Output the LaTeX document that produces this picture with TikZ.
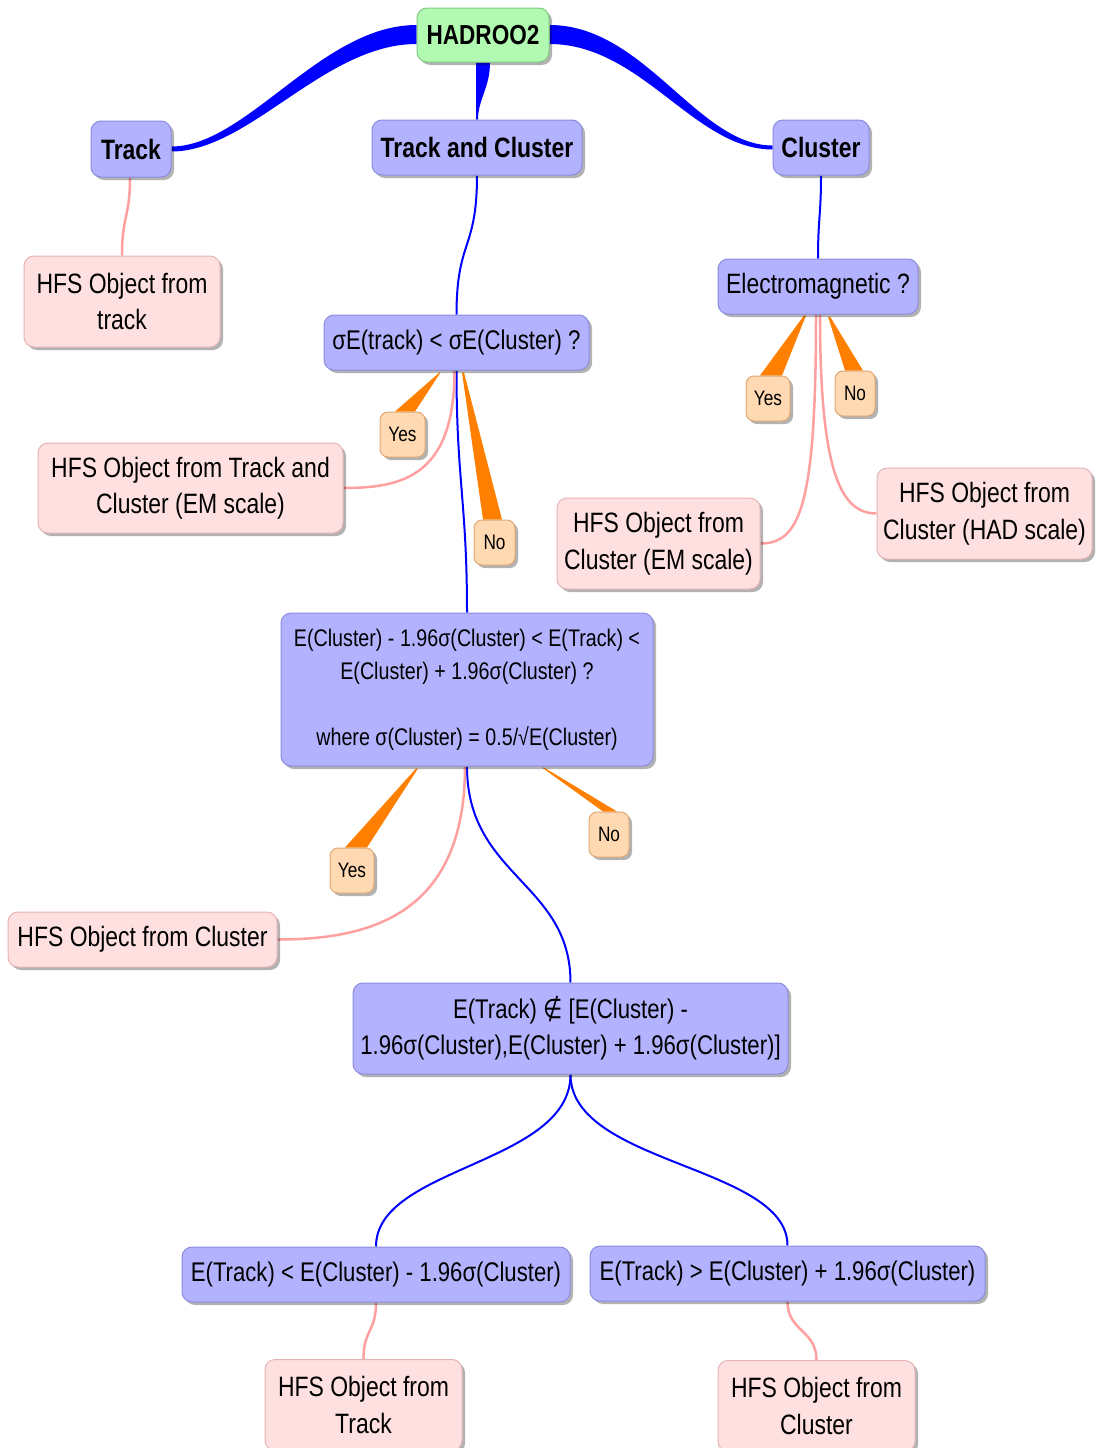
\documentclass[tikz,border=0pt]{standalone}
\usepackage{fontspec}
\setmainfont{Liberation Sans}[FakeStretch=0.82]
\newfontfamily\djv{DejaVu Sans}[FakeStretch=0.82]
\usetikzlibrary{shadows,calc}
\pgfdeclarelayer{background}
\pgfsetlayers{background,main}
\definecolor{bnode}{RGB}{178,178,255}
\definecolor{bbord}{RGB}{140,140,225}
\definecolor{gnode}{RGB}{178,250,178}
\definecolor{gbord}{RGB}{130,200,130}
\definecolor{pnode}{RGB}{255,224,224}
\definecolor{pbord}{RGB}{228,180,180}
\definecolor{onode}{RGB}{255,217,178}
\definecolor{obord}{RGB}{222,168,118}
\definecolor{wedge}{RGB}{255,128,0}
\definecolor{bline}{RGB}{0,0,255}
\definecolor{pline}{RGB}{255,160,160}
\tikzset{
  base/.style={rounded corners=10pt, inner sep=0pt, align=center, line width=1pt,
    drop shadow={shadow xshift=3pt, shadow yshift=-3pt, opacity=0.3, fill=black}},
  bluebox/.style={base, fill=bnode, draw=bbord, font=\fontsize{27}{36}\selectfont},
  topbox/.style={base, fill=bnode, draw=bbord, font=\fontsize{28}{34}\selectfont\bfseries},
  rootbox/.style={base, fill=gnode, draw=gbord, font=\fontsize{27.5}{34}\selectfont\bfseries},
  pinkbox/.style={base, fill=pnode, draw=pbord, font=\fontsize{28}{36.5}\selectfont},
  ansbox/.style={base, rounded corners=8pt, fill=onode, draw=obord, font=\fontsize{21}{25}\selectfont},
  bconn/.style={draw=bline, line width=2pt},
  pconn/.style={draw=pline, line width=2.5pt},
}
\begin{document}
\begin{tikzpicture}[x=1pt, y=-1pt]
\useasboundingbox (0,0) rectangle (1095,1448);

% nodes
\node[rootbox, minimum width=132, minimum height=54] (root) at (483,35) {HADROO2};
\node[topbox, minimum width=80, minimum height=56] (track) at (131,149) {Track};
\node[topbox, minimum width=210, minimum height=55] (tc) at (477,147.5) {Track and Cluster};
\node[topbox, minimum width=96, minimum height=55] (cluster) at (821,147.5) {Cluster};

\node[pinkbox, minimum width=196, minimum height=91] (hfsT) at (122,301.5) {HFS Object from\\track};
\node[bluebox, font=\fontsize{28}{36}\selectfont, minimum width=200, minimum height=55] (em) at (818,286.5) {Electromagnetic ?};
\node[bluebox, minimum width=265, minimum height=55] (sig) at (456.5,342.5) {σE(track) < σE(Cluster) ?};

\node[pinkbox, minimum width=305, minimum height=90] (hfsTC) at (190.5,488) {HFS Object from Track and\\Cluster (EM scale)};
\node[pinkbox, minimum width=203, minimum height=91] (hfsEM) at (658.5,543.5) {HFS Object from\\Cluster (EM scale)};
\node[pinkbox, minimum width=215, minimum height=91] (hfsHAD) at (984.5,513.5) {HFS Object from\\Cluster (HAD scale)};

\node[bluebox, font=\fontsize{24}{33}\selectfont, minimum width=372, minimum height=153] (big) at (467,689.5)
  {E(Cluster) - 1.96σ(Cluster) < E(Track) <\\E(Cluster) + 1.96σ(Cluster) ?\\[33pt]where σ(Cluster) = 0.5/√E(Cluster)};
\node[pinkbox, minimum width=269, minimum height=55] (hfsC) at (142.5,939.5) {HFS Object from Cluster};
\node[bluebox, minimum width=435, minimum height=91] (notin) at (570.5,1028.5)
  {E(Track) {\djv ∉} [E(Cluster) -\\1.96σ(Cluster),E(Cluster) + 1.96σ(Cluster)]};
\node[bluebox, minimum width=388, minimum height=55] (lt) at (376,1274.5) {E(Track) < E(Cluster) - 1.96σ(Cluster)};
\node[bluebox, minimum width=395, minimum height=55] (gt) at (787.5,1273.5) {E(Track) > E(Cluster) + 1.96σ(Cluster)};
\node[pinkbox, minimum width=197, minimum height=91] (hfsTr) at (363.5,1405) {HFS Object from\\Track};
\node[pinkbox, minimum width=197, minimum height=91] (hfsCl) at (816.5,1406) {HFS Object from\\Cluster};

% answer labels
\node[ansbox, minimum width=45, minimum height=45] (yes1) at (402.5,434.5) {Yes};
\node[ansbox, minimum width=41, minimum height=45] (no1) at (494.5,542.5) {No};
\node[ansbox, minimum width=44, minimum height=45] (yes2) at (768,398.5) {Yes};
\node[ansbox, minimum width=40, minimum height=45] (no2) at (855,393.5) {No};
\node[ansbox, minimum width=44, minimum height=45] (yes3) at (352,870.5) {Yes};
\node[ansbox, minimum width=40, minimum height=45] (no3) at (609,834.5) {No};

\begin{pgfonlayer}{background}
% thick tapered branches from root
\fill[bline] ($(root.west)+(0,-10)$) .. controls +(-95,0) and +(75,0) .. ($(track.east)+(0,-2.5)$)
  -- ($(track.east)+(0,2.5)$) .. controls +(78,0) and +(-92,0) .. ($(root.west)+(0,9)$) -- cycle;
\fill[bline] ($(root.east)+(0,-10)$) .. controls +(95,0) and +(-75,0) .. ($(cluster.west)+(0,-2)$)
  -- ($(cluster.west)+(0,2)$) .. controls +(-78,0) and +(92,0) .. ($(root.east)+(0,9)$) -- cycle;
\fill[bline] ($(root.south)+(-7,0)$) .. controls +(0,25) and +(0,-20) .. ($(tc.north)+(-1,0)$)
  -- ($(tc.north)+(1,0)$) .. controls +(0,-20) and +(0,25) .. ($(root.south)+(7,0)$) -- cycle;

\draw[bconn] (tc.south) .. controls +(0,75) and +(0,-75) .. (sig.north);
\draw[bconn] (cluster.south) .. controls +(0,40) and +(0,-40) .. (em.north);
\draw[bconn] (sig.south) .. controls +(0,110) and +(0,-110) .. (big.north);
\draw[bconn] (big.south) .. controls +(0,110) and +(0,-100) .. (notin.north);
\draw[bconn] (notin.south) .. controls +(0,90) and +(0,-80) .. (lt.north);
\draw[bconn] (notin.south) .. controls +(0,90) and +(0,-80) .. (gt.north);

\draw[pconn] ($(track.south)+(-1,0)$) .. controls +(0,40) and +(0,-40) .. (hfsT.north);
\draw[pconn] ($(sig.south)+(-2,0)$) .. controls +(0,105) and +(60,0) .. (hfsTC.east);
\draw[pconn] ($(em.south)+(-2,0)$) .. controls +(0,190) and +(40,0) .. (hfsEM.east);
\draw[pconn] ($(em.south)+(2,0)$) .. controls +(0,160) and +(-35,0) .. (hfsHAD.west);
\draw[pconn] ($(big.south)+(-2,0)$) .. controls +(0,150) and +(90,0) .. (hfsC.east);
\draw[pconn] (lt.south) .. controls +(0,30) and +(0,-30) .. (hfsTr.north);
\draw[pconn] (gt.south) .. controls +(0,30) and +(0,-30) .. (hfsCl.north);

% wedges
\fill[wedge] ($(yes1.north)+(-7.5,0)$) -- ($(yes1.north)+(12.5,0)$) -- ($(sig.south)+(-16,2)$) -- ($(sig.south)+(-17,2)$) -- cycle;
\fill[wedge] ($(no1.north)+(-11.5,0)$) -- ($(no1.north)+(7.5,0)$) -- ($(sig.south)+(7.5,2)$) -- ($(sig.south)+(5.5,2)$) -- cycle;
\fill[wedge] ($(yes2.north)+(-8,0)$) -- ($(yes2.north)+(14,0)$) -- ($(em.south)+(-12,1)$) -- ($(em.south)+(-14,1)$) -- cycle;
\fill[wedge] ($(no2.north)+(-10,0)$) -- ($(no2.north)+(8,0)$) -- ($(em.south)+(12,2)$) -- ($(em.south)+(10,2)$) -- cycle;
\fill[wedge] ($(yes3.north)+(-7,0)$) -- ($(yes3.north)+(15,0)$) -- ($(big.south)+(-49,2)$) -- ($(big.south)+(-51,2)$) -- cycle;
\fill[wedge] ($(no3.north)+(-6,0)$) -- ($(no3.north)+(8,0)$) -- ($(big.south)+(77,1)$) -- ($(big.south)+(75,1)$) -- cycle;
\end{pgfonlayer}
\end{tikzpicture}
\end{document}
